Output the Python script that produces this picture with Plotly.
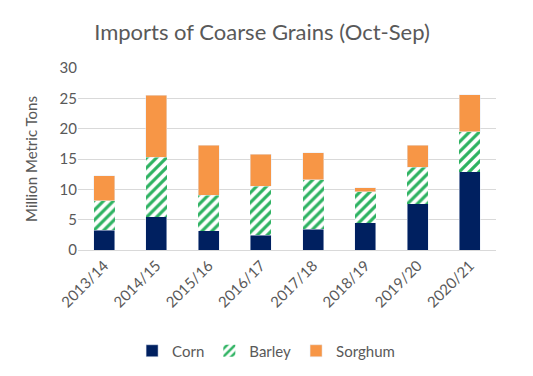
import plotly.graph_objects as go

years = ["2013/14", "2014/15", "2015/16", "2016/17", "2017/18", "2018/19", "2019/20", "2020/21"]
corn = [3.25, 5.45, 3.15, 2.45, 3.4, 4.5, 7.6, 12.9]
barley = [4.9, 9.8, 5.85, 8.1, 8.15, 5.1, 6.0, 6.6]
sorghum = [4.1, 10.3, 8.3, 5.2, 4.45, 0.7, 3.7, 6.1]

fig = go.Figure()
fig.add_trace(go.Bar(x=years, y=corn, name="Corn", marker=dict(color="#002060")))
fig.add_trace(go.Bar(x=years, y=barley, name="Barley",
                     marker=dict(color="white", line=dict(width=0),
                                 pattern=dict(shape="/", fgcolor="#2DB261", bgcolor="white",
                                              size=7, solidity=0.45, fillmode="replace"))))
fig.add_trace(go.Bar(x=years, y=sorghum, name="Sorghum", marker=dict(color="#F79646")))

fig.update_layout(
    barmode="stack",
    bargap=0.6,
    width=533, height=376,
    paper_bgcolor="white", plot_bgcolor="white",
    margin=dict(l=70, r=45, t=60, b=134),
    font=dict(family="Lato, Open Sans, sans-serif", color="#595959", size=14),
    title=dict(text="Imports of Coarse Grains (Oct-Sep)", x=0.4765, xanchor="center",
               y=0.936, yanchor="middle", font=dict(size=22, color="#595959")),
    legend=dict(orientation="h", x=0.45, xanchor="center", y=-0.555, yanchor="middle",
                traceorder="normal", itemwidth=30, font=dict(size=15, color="#595959")),
    showlegend=True,
)
fig.update_yaxes(range=[0, 30], dtick=5, showgrid=True, gridcolor="#D9D9D9", gridwidth=1,
                 zeroline=False, title=dict(text="Million Metric Tons", font=dict(size=15), standoff=18),
                 tickfont=dict(size=15), ticks="", showline=False)
fig.update_xaxes(tickangle=-45, showline=True, linecolor="#D9D9D9", tickfont=dict(size=15), ticks="")

fig.write_html("out.html")
